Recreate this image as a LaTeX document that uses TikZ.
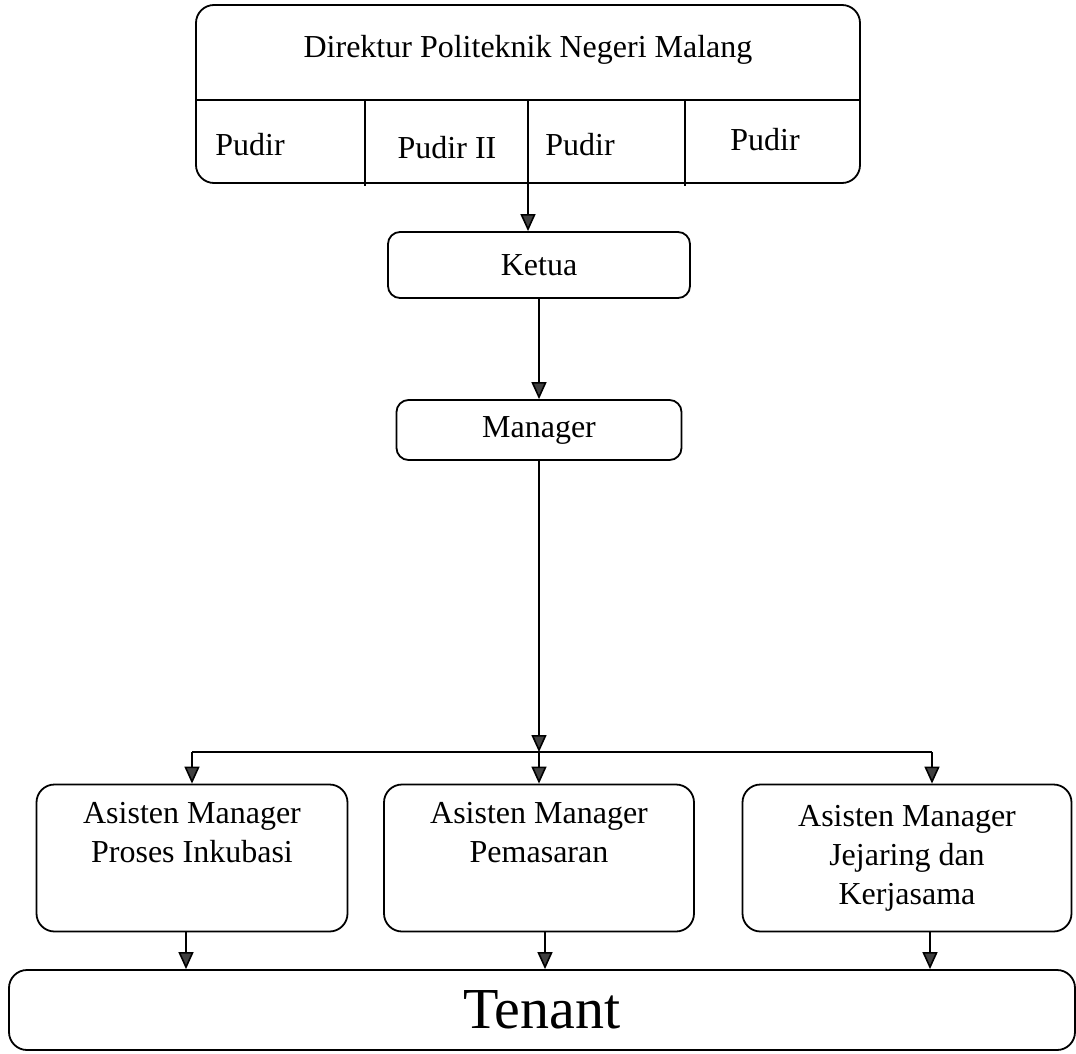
\documentclass[tikz,border=0pt]{standalone}
\usepackage{fontspec}
\setmainfont{Liberation Serif}
\usetikzlibrary{arrows.meta,positioning}

\begin{document}
\begin{tikzpicture}[
      x=0.5pt, y=-0.5pt,
      font=\fontsize{16}{19.5}\selectfont,
      Box/.style={draw, line width=0.9pt, rounded corners=6pt, inner sep=0pt, align=center},
      Arr/.style={line width=0.8pt, -{Triangle[width=7.5pt,length=8.5pt,fill=black!75]}},
      ]
      \useasboundingbox (0,0) rectangle (1076,1054);

      % pimpinan
      \node[Box, rounded corners=9pt, minimum width=332pt, minimum height=89pt] (dir) at (528,94) {};
      \node (dtitle) at (528,50) {Direktur Politeknik Negeri Malang};
      \coordinate (dv) at (0,100);
      \draw[line width=0.9pt] (dir.west |- dv) -- (dir.east |- dv);
      \foreach \x in {365,528,685}
        \draw[line width=0.7pt] (\x,100) -- (\x,186);
      \node (p1) at (250,145) {Pudir};
      \node (p2) at (447,148) {Pudir II};
      \node (p3) at (580,145) {Pudir};
      \node (p4) at (765,140) {Pudir};

      \node[Box, minimum width=151pt, minimum height=33pt] (ket) at (539,265) {Ketua};
      \node[Box, minimum width=142.5pt, minimum height=30pt] (man) at (539,430) {Manager};

      % asisten manager
      \node[Box, rounded corners=9pt, minimum width=155.5pt, minimum height=73.5pt] (am1) at (192,858) {Asisten Manager\\Proses Inkubasi\\\strut};
      \node[Box, rounded corners=9pt, minimum width=155pt, minimum height=73.5pt] (am2) at (539,858) {Asisten Manager\\Pemasaran\\\strut};
      \node[Box, rounded corners=9pt, minimum width=164.5pt, minimum height=73.5pt] (am3) at (907,858) {Asisten Manager\\Jejaring dan\\Kerjasama};

      \node[Box, rounded corners=9pt, minimum width=533pt, minimum height=40pt, font=\fontsize{29}{34}\selectfont] (ten) at (542,1010) {Tenant};

      \draw[Arr] (dir.south) -- (dir.south |- ket.north);
      \draw[Arr] (ket.south) -- (man.north);

      \coordinate (split) at (539,752);
      \coordinate (brR) at ([xshift=12.5pt]am3.north |- split);
      \draw[Arr] (man.south) -- (split);
      \draw[line width=0.8pt] (am1.north |- split) -- (brR);
      \draw[Arr] (am1.north |- split) -- (am1.north);
      \draw[Arr] (split) -- (am2.north);
      \draw[Arr] (brR) -- (brR |- am3.north);

      \draw[Arr] ([xshift=-3pt]am1.south) -- ([xshift=-3pt]am1.south |- ten.north);
      \draw[Arr] ([xshift=3pt]am2.south) -- ([xshift=3pt]am2.south |- ten.north);
      \draw[Arr] ([xshift=11.5pt]am3.south) -- ([xshift=11.5pt]am3.south |- ten.north);
    \end{tikzpicture}
\end{document}
